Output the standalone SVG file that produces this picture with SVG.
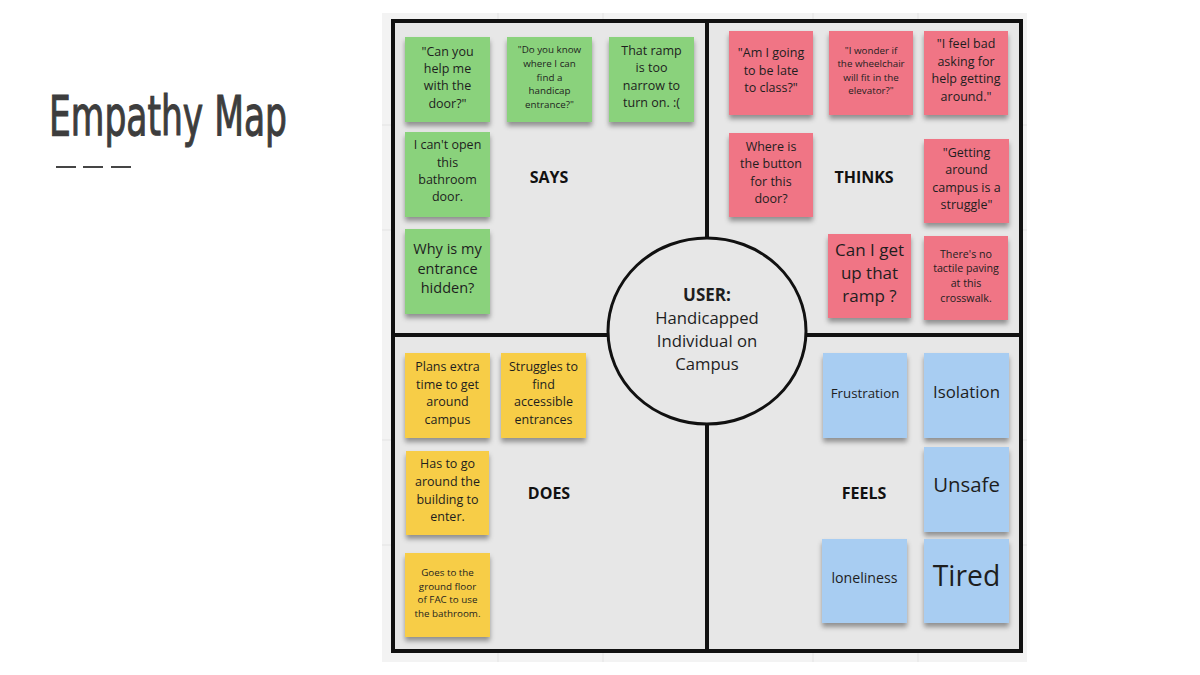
<svg xmlns="http://www.w3.org/2000/svg" width="1200" height="675" viewBox="0 0 1200 675">
<defs>
<filter id="shadow" x="-20%" y="-20%" width="140%" height="150%">
<feDropShadow dx="0" dy="4" stdDeviation="2.5" flood-color="#000" flood-opacity="0.38"/>
</filter>
<style>
.note{filter:url(#shadow);}
.g{fill:#8ad27c;}
.p{fill:#f07585;}
.y{fill:#f7cd46;}
.b{fill:#a8cdf2;}
.t{font-family:"Open Sans","Noto Sans",sans-serif;fill:#1e1e1e;text-anchor:middle;}
.lbl{font-family:"Open Sans","Noto Sans",sans-serif;font-weight:bold;font-size:16px;fill:#111;text-anchor:middle;}
.grid{stroke:#e3e3e3;stroke-width:1;}
.div{stroke:#111;stroke-width:4;fill:none;}
</style>
</defs>
<rect width="1200" height="675" fill="#ffffff"/>
<g id="title">
<text x="49" y="135" font-family="'Liberation Sans Narrow','DejaVu Sans Condensed','Liberation Sans',sans-serif" font-size="55" fill="#3d3d3d" stroke="#3d3d3d" stroke-width="1.1" textLength="238" lengthAdjust="spacingAndGlyphs">Empathy Map</text>
<g stroke="#454545" stroke-width="2">
<line x1="56" y1="167" x2="76" y2="167"/>
<line x1="83" y1="167" x2="103" y2="167"/>
<line x1="111" y1="167" x2="131" y2="167"/>
</g>
</g>
<g id="board">
<rect x="382" y="13" width="645" height="649" fill="#f3f3f3"/>
<g class="grid">
<line x1="498" y1="13" x2="498" y2="662"/>
<line x1="603" y1="13" x2="603" y2="662"/>
<line x1="813" y1="13" x2="813" y2="662"/>
<line x1="918" y1="13" x2="918" y2="662"/>
<line x1="382" y1="125" x2="1027" y2="125"/>
<line x1="382" y1="230" x2="1027" y2="230"/>
<line x1="382" y1="440" x2="1027" y2="440"/>
<line x1="382" y1="545" x2="1027" y2="545"/>
</g>
<rect x="393" y="21" width="628" height="630" fill="#e7e7e7"/>
</g>
<g id="dividers">
<rect class="div" x="393" y="21" width="628" height="630"/>
<line class="div" x1="707" y1="21" x2="707" y2="651"/>
<line class="div" x1="393" y1="335" x2="1021" y2="335"/>
</g>
<g id="user">
<ellipse cx="707" cy="331" rx="99" ry="93" fill="#e7e7e7" stroke="#111" stroke-width="3"/>
<text class="t" x="707" y="300.6" font-size="17" font-weight="bold" fill="#111">USER:</text>
<text class="t" x="707" y="324" font-size="16.7">Handicapped</text>
<text class="t" x="707" y="346.7" font-size="16.7">Individual on</text>
<text class="t" x="707" y="369.7" font-size="16.7">Campus</text>
</g>
<g id="says">
<text class="lbl" x="549" y="182.7">SAYS</text>
<g id="says-1"><rect class="note g" x="405" y="37" width="85" height="85"/>
<text class="t" font-size="12.5" x="447.5" y="55.8">"Can you<tspan x="447.5" dy="17.3">help me</tspan><tspan x="447.5" dy="17.3">with the</tspan><tspan x="447.5" dy="17.3">door?"</tspan></text></g>
<g id="says-2"><rect class="note g" x="507" y="37" width="85" height="85"/>
<text class="t" font-size="9.8" x="549.5" y="53.2">"Do you know<tspan x="549.5" dy="13.7">where I can</tspan><tspan x="549.5" dy="13.7">find a</tspan><tspan x="549.5" dy="13.7">handicap</tspan><tspan x="549.5" dy="13.7">entrance?"</tspan></text></g>
<g id="says-3"><rect class="note g" x="609" y="37" width="85" height="85"/>
<text class="t" font-size="12.5" x="651.5" y="54.8">That ramp<tspan x="651.5" dy="17.5">is too</tspan><tspan x="651.5" dy="17.5">narrow to</tspan><tspan x="651.5" dy="17.5">turn on. :(</tspan></text></g>
<g id="says-4"><rect class="note g" x="405" y="132" width="85" height="85"/>
<text class="t" font-size="12.5" x="447.5" y="149.1">I can't open<tspan x="447.5" dy="17.4">this</tspan><tspan x="447.5" dy="17.4">bathroom</tspan><tspan x="447.5" dy="17.4">door.</tspan></text></g>
<g id="says-5"><rect class="note g" x="405" y="229" width="85" height="85"/>
<text class="t" font-size="14.5" x="447.5" y="253.8">Why is my<tspan x="447.5" dy="19.7">entrance</tspan><tspan x="447.5" dy="19.7">hidden?</tspan></text></g>
</g>
<g id="thinks">
<text class="lbl" x="864" y="182.7">THINKS</text>
<g id="thinks-1"><rect class="note p" x="729" y="31" width="84" height="84"/>
<text class="t" font-size="12.5" x="771" y="56.8">"Am I going<tspan x="771" dy="17.8">to be late</tspan><tspan x="771" dy="17.8">to class?"</tspan></text></g>
<g id="thinks-2"><rect class="note p" x="829" y="31" width="84" height="84"/>
<text class="t" font-size="9.8" x="871" y="53.5">"I wonder if<tspan x="871" dy="13.6">the wheelchair</tspan><tspan x="871" dy="13.6">will fit in the</tspan><tspan x="871" dy="13.6">elevator?"</tspan></text></g>
<g id="thinks-3"><rect class="note p" x="924" y="31" width="84" height="84"/>
<text class="t" font-size="12.5" x="966" y="48.1">"I feel bad<tspan x="966" dy="17.6">asking for</tspan><tspan x="966" dy="17.6">help getting</tspan><tspan x="966" dy="17.6">around."</tspan></text></g>
<g id="thinks-4"><rect class="note p" x="729" y="133" width="84" height="84"/>
<text class="t" font-size="12.5" x="771" y="150.8">Where is<tspan x="771" dy="17.5">the button</tspan><tspan x="771" dy="17.5">for this</tspan><tspan x="771" dy="17.5">door?</tspan></text></g>
<g id="thinks-5"><rect class="note p" x="924" y="139" width="85" height="84"/>
<text class="t" font-size="12.5" x="966.5" y="156.8">"Getting<tspan x="966.5" dy="17.4">around</tspan><tspan x="966.5" dy="17.4">campus is a</tspan><tspan x="966.5" dy="17.4">struggle"</tspan></text></g>
<g id="thinks-6"><rect class="note p" x="828" y="234" width="83" height="84"/>
<text class="t" font-size="17" x="869.5" y="256.3">Can I get<tspan x="869.5" dy="23">up that</tspan><tspan x="869.5" dy="23">ramp ?</tspan></text></g>
<g id="thinks-7"><rect class="note p" x="924" y="236" width="84" height="84"/>
<text class="t" font-size="10.7" x="966" y="257.5">There's no<tspan x="966" dy="14.8">tactile paving</tspan><tspan x="966" dy="14.8">at this</tspan><tspan x="966" dy="14.8">crosswalk.</tspan></text></g>
</g>
<g id="does">
<text class="lbl" x="549" y="498.7">DOES</text>
<g id="does-1"><rect class="note y" x="405" y="353" width="85" height="85"/>
<text class="t" font-size="12.5" x="447.5" y="370.8">Plans extra<tspan x="447.5" dy="17.7">time to get</tspan><tspan x="447.5" dy="17.7">around</tspan><tspan x="447.5" dy="17.7">campus</tspan></text></g>
<g id="does-2"><rect class="note y" x="501" y="353" width="85" height="85"/>
<text class="t" font-size="12.5" x="543.5" y="370.8">Struggles to<tspan x="543.5" dy="17.7">find</tspan><tspan x="543.5" dy="17.7">accessible</tspan><tspan x="543.5" dy="17.7">entrances</tspan></text></g>
<g id="does-3"><rect class="note y" x="406" y="451" width="83" height="84"/>
<text class="t" font-size="12.5" x="447.5" y="468.4">Has to go<tspan x="447.5" dy="17.6">around the</tspan><tspan x="447.5" dy="17.6">building to</tspan><tspan x="447.5" dy="17.6">enter.</tspan></text></g>
<g id="does-4"><rect class="note y" x="405" y="553" width="85" height="84"/>
<text class="t" font-size="9.8" x="447.5" y="575.9">Goes to the<tspan x="447.5" dy="13.7">ground floor</tspan><tspan x="447.5" dy="13.7">of FAC to use</tspan><tspan x="447.5" dy="13.7">the bathroom.</tspan></text></g>
</g>
<g id="feels">
<text class="lbl" x="864" y="498.7">FEELS</text>
<g id="feels-1"><rect class="note b" x="823" y="353" width="84" height="85"/>
<text class="t" font-size="13.3" x="865" y="397.7">Frustration</text></g>
<g id="feels-2"><rect class="note b" x="924" y="353" width="85" height="85"/>
<text class="t" font-size="16.8" x="966.5" y="398.2">Isolation</text></g>
<g id="feels-3"><rect class="note b" x="924" y="447" width="85" height="85"/>
<text class="t" font-size="20.4" x="966.5" y="492.4">Unsafe</text></g>
<g id="feels-4"><rect class="note b" x="822" y="539" width="85" height="84"/>
<text class="t" font-size="14.2" x="864.5" y="583">loneliness</text></g>
<g id="feels-5"><rect class="note b" x="924" y="539" width="85" height="84"/>
<text class="t" font-size="28.3" x="966.5" y="586">Tired</text></g>
</g>
</svg>
